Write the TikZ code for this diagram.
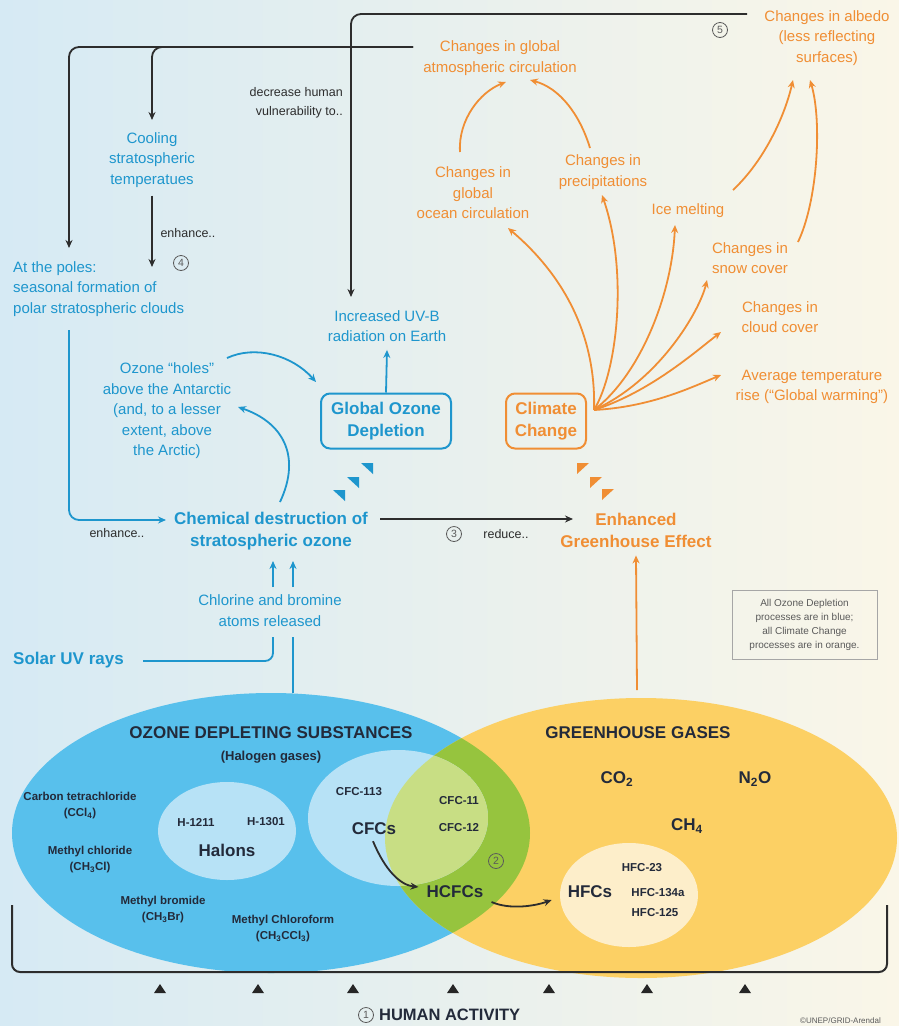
\documentclass[tikz,border=0pt]{standalone}
\usepackage{fontspec}
\setmainfont{Liberation Sans}
\usetikzlibrary{arrows.meta,calc,positioning}
\definecolor{ozblue}{RGB}{30,150,205}
\definecolor{ozorange}{RGB}{240,142,52}
\definecolor{inkdark}{RGB}{35,42,58}
\definecolor{linegray}{RGB}{45,45,45}
\definecolor{notegray}{RGB}{90,90,90}
\definecolor{odsblue}{RGB}{88,192,236}
\definecolor{ghgyellow}{RGB}{252,208,100}
\definecolor{mixgreen}{RGB}{150,196,62}
\definecolor{paleblue}{RGB}{183,226,246}
\definecolor{palegreen}{RGB}{200,222,132}
\definecolor{palecream}{RGB}{253,238,202}
\definecolor{bgleft}{RGB}{214,234,244}
\definecolor{bgright}{RGB}{250,246,232}

\tikzset{
  btext/.style={text=ozblue, font=\fontsize{15}{20.5}\selectfont, align=center, inner sep=0pt},
  otext/.style={text=ozorange, font=\fontsize{15}{20.5}\selectfont, align=center, inner sep=0pt},
  btitle/.style={text=ozblue, font=\bfseries\fontsize{17}{22}\selectfont, align=center, inner sep=0pt},
  otitle/.style={text=ozorange, font=\bfseries\fontsize{17}{22}\selectfont, align=center, inner sep=0pt},
  stext/.style={text=linegray, font=\fontsize{12.5}{19}\selectfont, align=center, inner sep=0pt},
  bbox/.style={btitle, draw=ozblue, line width=2pt, rounded corners=9pt, minimum width=130pt, minimum height=55pt},
  obox/.style={otitle, draw=ozorange, line width=2pt, rounded corners=9pt, minimum width=80pt, minimum height=55pt},
  numc/.style={circle, draw=notegray, text=notegray, line width=0.8pt, inner sep=0pt, minimum size=15pt, font=\fontsize{10.5}{10.5}\selectfont},
  elltitle/.style={text=inkdark, font=\bfseries\fontsize{17}{20}\selectfont, inner sep=0pt},
  cmpd/.style={text=inkdark, font=\bfseries\fontsize{11.5}{16}\selectfont, align=center, inner sep=0pt},
  gasbig/.style={text=inkdark, font=\bfseries\fontsize{17}{20}\selectfont, inner sep=0pt},
  karr/.style={draw=linegray, line width=1.8pt, -{Stealth[length=8pt,width=7pt]}},
  barr/.style={draw=ozblue, line width=1.8pt, -{Stealth[length=8pt,width=7pt]}},
  oarr/.style={draw=ozorange, line width=1.8pt, -{Stealth[length=8pt,width=7pt]}},
  bline/.style={draw=ozblue, line width=1.8pt},
}

\begin{document}
\begin{tikzpicture}[x=1pt,y=-1pt]
  \useasboundingbox (0,0) rectangle (899,1026);
  \fill[left color=bgleft, right color=bgright] (0,0) rectangle (899,1026);

  % gas families
  \fill[odsblue] (271,833) ellipse [x radius=259, y radius=140];
  \fill[ghgyellow] (641,838) ellipse [x radius=256, y radius=140];
  \begin{scope}
    \clip (641,838) ellipse [x radius=256, y radius=140];
    \fill[mixgreen] (271,833) ellipse [x radius=259, y radius=140];
  \end{scope}
  \fill[paleblue] (227,831) ellipse [x radius=69, y radius=49];
  \fill[paleblue] (398,818) ellipse [x radius=90, y radius=68];
  \begin{scope}
    \clip (641,838) ellipse [x radius=256, y radius=140];
    \fill[palegreen] (398,818) ellipse [x radius=90, y radius=68];
  \end{scope}
  \fill[palecream] (629,895) ellipse [x radius=69, y radius=52];

  \node[elltitle] (odstitle) at (271,733) {OZONE DEPLETING SUBSTANCES};
  \node[cmpd, font=\bfseries\fontsize{13}{16}\selectfont] (halogen) at (271,757) {(Halogen gases)};
  \node[cmpd] (ccl4) at (80,806) {Carbon tetrachloride\\(CCl\textsubscript{4})};
  \node[cmpd] (ch3cl) at (90,860) {Methyl chloride\\(CH\textsubscript{3}Cl)};
  \node[cmpd] (ch3br) at (163,910) {Methyl bromide\\(CH\textsubscript{3}Br)};
  \node[cmpd] (ch3ccl3) at (283,929) {Methyl Chloroform\\(CH\textsubscript{3}CCl\textsubscript{3})};
  \node[cmpd] (h1211) at (196,822) {H-1211};
  \node[cmpd] (h1301) at (266,822) {H-1301};
  \node[gasbig] (halons) at (227,850) {Halons};
  \node[cmpd] (cfc113) at (359,792) {CFC-113};
  \node[gasbig] (cfcs) at (374,829) {CFCs};
  \node[cmpd] (cfc11) at (459,801) {CFC-11};
  \node[cmpd] (cfc12) at (459,828) {CFC-12};
  \node[numc] (n2) at (496,861) {2};
  \node[gasbig] (hcfcs) at (455,892) {HCFCs};

  \node[elltitle] (ghgtitle) at (638,733) {GREENHOUSE GASES};
  \node[gasbig] (co2) at (617,779) {CO\textsubscript{2}};
  \node[gasbig] (n2o) at (755,779) {N\textsubscript{2}O};
  \node[gasbig] (ch4) at (687,826) {CH\textsubscript{4}};
  \node[gasbig] (hfcs) at (590,892) {HFCs};
  \node[cmpd] (hfc23) at (642,868) {HFC-23};
  \node[cmpd] (hfc134a) at (658,893) {HFC-134a};
  \node[cmpd] (hfc125) at (655,913) {HFC-125};

  \draw[karr] ($(cfcs.south)+(-1,6)$) .. controls (385,870) and (400,885) .. ($(hcfcs.west)+(-8,-5)$);
  \draw[karr] ($(hcfcs.east)+(8,10)$) .. controls (510,910) and (535,906) .. ($(hfcs.west)+(-16,8)$);

  % human activity
  \draw[linegray, line width=2pt, rounded corners=8pt] (12,905) -- (12,972) -- (887,972) -- (887,905);
  \foreach \x in {160,258,353,453,549,647,745}
    \fill[black!85] (\x-6,993) -- (\x+6,993) -- (\x,984) -- cycle;
  \node[numc] (n1) at (366,1015) {1};
  \node[elltitle, font=\bfseries\fontsize{16.5}{20}\selectfont, right=5pt of n1] (human) {HUMAN ACTIVITY};
  \node[anchor=west, text=notegray, font=\fontsize{8}{8}\selectfont, inner sep=0pt] (credit) at (800,1021) {©UNEP/GRID-Arendal};

  % ozone depletion side
  \node[btext] (cooling) at (152,160) {Cooling\\stratospheric\\temperatues};
  \node[btext, align=left, anchor=west] (poles) at (13,289) {At the poles:\\seasonal formation of\\polar stratospheric clouds};
  \node[btext] (uvb) at (387,326) {Increased UV-B\\radiation on Earth};
  \node[btext] (holes) at (167,411) {Ozone “holes”\\above the Antarctic\\(and, to a lesser\\extent, above\\the Arctic)};
  \node[bbox] (god) at (386,421) {Global Ozone\\Depletion};
  \node[btitle] (chem) at (271,531) {Chemical destruction of\\stratospheric ozone};
  \node[btext, font=\fontsize{15}{21}\selectfont] (chlor) at (270,611) {Chlorine and bromine\\atoms released};
  \node[btitle, anchor=west] (solar) at (13,660) {Solar UV rays};

  \node[stext, align=right, anchor=east] (vuln) at (343,103) {decrease human\\vulnerability to..};
  \node[stext] (enh1) at (188,233) {enhance..};
  \node[numc] (n4) at (181,263) {4};
  \node[stext] (enh2) at (117,533) {enhance..};
  \node[numc] (n3) at (454,534) {3};
  \node[stext] (reduce) at (506,534) {reduce..};

  % climate change side
  \node[otext] (atmos) at (500,58) {Changes in global\\atmospheric circulation};
  \node[otext] (albedo) at (827,38) {Changes in albedo\\(less reflecting\\surfaces)};
  \node[numc] (n5) at (720,30) {5};
  \node[otext] (ocean) at (473,193) {Changes in\\global\\ocean circulation};
  \node[otext] (precip) at (603,172) {Changes in\\precipitations};
  \node[otext] (ice) at (688,211) {Ice melting};
  \node[otext] (snow) at (750,258) {Changes in\\snow cover};
  \node[otext] (cloud) at (780,317) {Changes in\\cloud cover};
  \node[otext] (avgtemp) at (812,387) {Average temperature\\rise (“Global warming”)};
  \node[obox] (cc) at (546,421) {Climate\\Change};
  \node[otitle] (ghe) at (636,530) {Enhanced\\Greenhouse Effect};

  \node[draw=gray!70, line width=1pt, text=notegray, font=\fontsize{10}{14}\selectfont, align=center,
        minimum width=145pt, minimum height=69pt, inner sep=0pt] (legend) at (804.5,624.5)
        {All Ozone Depletion\\processes are in blue;\\all Climate Change\\processes are in orange.};

  % feedback lines
  \coordinate (topr) at (747,14);
  \coordinate (uvbin) at (351,297);
  \coordinate (circl) at (413,47);
  \coordinate (polesin) at (69,248);
  \coordinate (coolin) at (152,120);
  \draw[karr, rounded corners=10pt] (topr) -| (uvbin);
  \draw[karr, rounded corners=10pt] (circl) -| (polesin);
  \draw[karr, rounded corners=10pt] (circl) -| (coolin);
  \draw[karr] ($(cooling.south)+(0,8)$) -- (152,267);

  \coordinate (polesout) at (69,330);
  \coordinate (chemin) at (166,520);
  \draw[barr, rounded corners=10pt] (polesout) |- (chemin);
  \draw[barr] (280,502) .. controls (302,455) and (282,422) .. (238,407);
  \draw[barr] (227,358) .. controls (255,345) and (292,355) .. (316,382);
  \draw[barr] (god.north) -- ($(uvb.south)+(0,8)$);
  \draw[barr] (273,587) -- (273,561);
  \draw[barr] (293,587) -- (293,561);
  \coordinate (solarend) at (143,661);
  \coordinate (chlorbot) at (273,637);
  \draw[bline, rounded corners=8pt] (solarend) -| (chlorbot);
  \draw[bline] (293,693) -- (293,637);
  \draw[oarr] (637,690) -- ($(ghe.south)+(0,8)$);
  \draw[karr] (380,519) -- (573,519);

  \foreach \x/\y in {368/468,354/482,340/495}
    \fill[ozblue] (\x-7,\y-5) -- (\x+5,\y-5) -- (\x+5,\y+6) -- cycle;
  \foreach \x/\y in {582/468,595/482,607/494}
    \fill[ozorange] (\x-5,\y-5) -- (\x+7,\y-5) -- (\x-5,\y+6) -- cycle;

  % climate change effects
  \coordinate (fan) at (594,410);
  \draw[oarr] (fan) .. controls (596,350) and (575,285) .. (508,228);
  \draw[oarr] (fan) .. controls (618,370) and (628,270) .. (602,195);
  \draw[oarr] (fan) .. controls (640,375) and (672,295) .. (675,225);
  \draw[oarr] (fan) .. controls (660,380) and (700,310) .. (707,280);
  \draw[oarr] (fan) .. controls (650,392) and (695,352) .. (721,332);
  \draw[oarr] (fan) .. controls (650,407) and (690,388) .. (721,375);
  \draw[oarr] (733,190) .. controls (765,160) and (785,115) .. (793,80);
  \draw[oarr] (798,242) .. controls (818,200) and (822,120) .. (810,80);
  \draw[oarr] (460,152) .. controls (458,120) and (480,92) .. (506,82);
  \draw[oarr] (590,148) .. controls (580,115) and (560,88) .. (530,80);
\end{tikzpicture}
\end{document}
